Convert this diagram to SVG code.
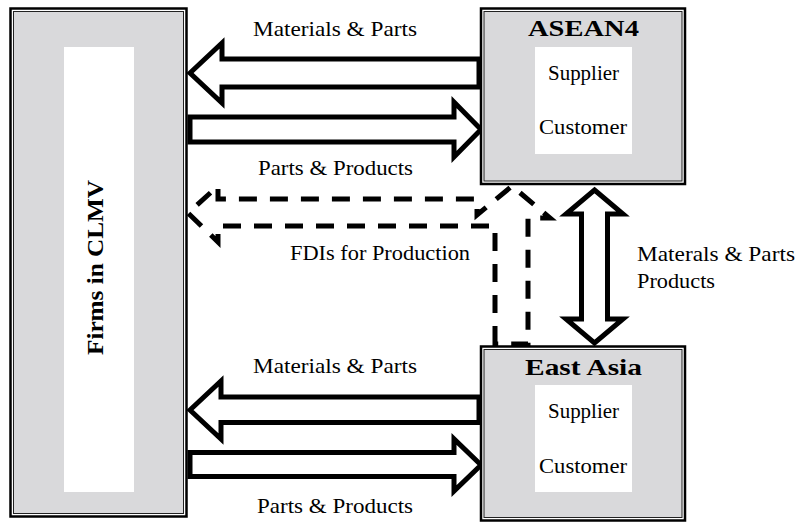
<svg xmlns="http://www.w3.org/2000/svg" width="799" height="522" viewBox="0 0 799 522">
  <style>
    .frame { fill: #ffffff; stroke: #000000; stroke-width: 2.5; }
    .panel { fill: #d9d9db; stroke: #222222; stroke-width: 1; }
    .card { fill: #ffffff; stroke: none; }
    .solid { fill: #ffffff; stroke: #000000; stroke-width: 5; stroke-linejoin: miter; stroke-miterlimit: 10; }
    .dashed { fill: none; stroke: #000000; stroke-width: 5; stroke-dasharray: 18 13; stroke-linejoin: miter; }
    text { font-family: "Liberation Serif", "Times New Roman", serif; fill: #000000; }
    .lbl { font-size: 21px; }
    .title { font-size: 24px; font-weight: bold; }
    .item { font-size: 21px; }
  </style>

  <!-- flows between the regions -->
  <g id="connectors">
    <!-- ASEAN4 -> CLMV : materials & parts -->
    <polygon class="solid" points="190,73 222,43 222,59 479,59 479,87 222,87 222,103"/>
    <!-- CLMV -> ASEAN4 : parts & products -->
    <polygon class="solid" points="190,117 454,117 454,102 481,129.5 454,157 454,142 190,142"/>
    <!-- East Asia -> CLMV : materials & parts -->
    <polygon class="solid" points="190,410 221,381 221,397 479,397 479,422.5 221,422.5 221,439"/>
    <!-- CLMV -> East Asia : parts & products -->
    <polygon class="solid" points="190,452.5 454,452.5 454,439 481,465 454,491 454,476.5 190,476.5"/>
    <!-- ASEAN4 <-> East Asia -->
    <polygon class="solid" points="594.5,190 623,214 607.5,214 607.5,319 623,319 594.5,343 566,319 581.5,319 581.5,214 566,214"/>
    <!-- FDI for production, from East Asia up to ASEAN4 and left to CLMV -->
    <path class="dashed" d="M495,344 L495,226 L218,226 L218,242 L188,213 L218,186 L218,199 L477,199 L477,215 L512,186 L550,218 L528,218 L528,344 Z"/>

    <text class="lbl" x="253" y="35.5" textLength="164" lengthAdjust="spacingAndGlyphs">Materials &amp; Parts</text>
    <text class="lbl" x="258" y="175" textLength="155" lengthAdjust="spacingAndGlyphs">Parts &amp; Products</text>
    <text class="lbl" x="290" y="260" textLength="180" lengthAdjust="spacingAndGlyphs">FDIs for Production</text>
    <text class="lbl" x="637" y="261" textLength="158" lengthAdjust="spacingAndGlyphs">Materals &amp; Parts</text>
    <text class="lbl" x="637" y="288" textLength="78" lengthAdjust="spacingAndGlyphs">Products</text>
    <text class="lbl" x="253" y="373" textLength="164" lengthAdjust="spacingAndGlyphs">Materials &amp; Parts</text>
    <text class="lbl" x="257" y="513" textLength="156" lengthAdjust="spacingAndGlyphs">Parts &amp; Products</text>
  </g>

  <!-- CLMV firms -->
  <g id="clmv">
    <rect class="frame" x="10.5" y="8.5" width="176" height="508"/>
    <rect class="panel" x="13.5" y="11.5" width="170" height="502"/>
    <rect class="card" x="64" y="47" width="70" height="445"/>
    <text class="title" transform="translate(103,267.5) rotate(-90)" x="-87.5" y="0" font-size="26" textLength="175" lengthAdjust="spacingAndGlyphs">Firms in CLMV</text>
  </g>

  <!-- ASEAN4 -->
  <g id="asean4">
    <rect class="frame" x="481" y="8.5" width="204" height="175.5"/>
    <rect class="panel" x="484" y="11.5" width="198" height="169.5"/>
    <rect class="card" x="535" y="47" width="97" height="107"/>
    <text class="title" x="528" y="36" textLength="111" lengthAdjust="spacingAndGlyphs">ASEAN4</text>
    <text class="item" x="548" y="80" textLength="71" lengthAdjust="spacingAndGlyphs">Supplier</text>
    <text class="item" x="539" y="134" textLength="88" lengthAdjust="spacingAndGlyphs">Customer</text>
  </g>

  <!-- East Asia -->
  <g id="east-asia">
    <rect class="frame" x="481" y="346.5" width="204" height="174"/>
    <rect class="panel" x="484" y="349.5" width="198" height="168"/>
    <rect class="card" x="535" y="385" width="97" height="107"/>
    <text class="title" x="525" y="375" textLength="117" lengthAdjust="spacingAndGlyphs">East Asia</text>
    <text class="item" x="548" y="418" textLength="71" lengthAdjust="spacingAndGlyphs">Supplier</text>
    <text class="item" x="539" y="472.5" textLength="88" lengthAdjust="spacingAndGlyphs">Customer</text>
  </g>
</svg>
